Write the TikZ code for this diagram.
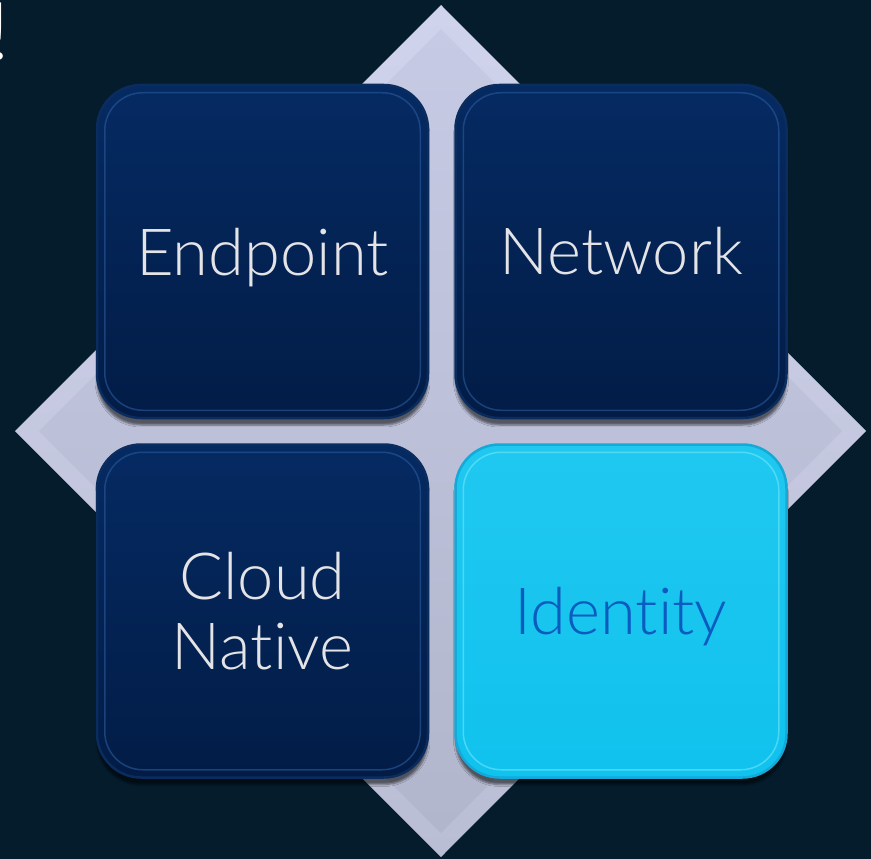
\documentclass[tikz,border=0pt]{standalone}
\usepackage{fontspec}
\setmainfont{Lato Light}[Ligatures=CommonOff]
\usetikzlibrary{shadows.blur}
\definecolor{bgc}{HTML}{041C2C}
\definecolor{diamondtop}{HTML}{D0D3EC}
\definecolor{diamondbot}{HTML}{BABED4}
\definecolor{innertop}{HTML}{C6CAE4}
\definecolor{innerbot}{HTML}{B2B6CC}
\definecolor{navytop}{HTML}{052A62}
\definecolor{navybot}{HTML}{021C46}
\definecolor{rimnavy}{HTML}{0A2C5E}
\definecolor{navyhi}{HTML}{2A5A9C}
\definecolor{tiletext}{HTML}{E4E4E6}
\definecolor{cyantop}{HTML}{20C8F0}
\definecolor{cyanmid}{HTML}{3CD8F6}
\definecolor{cyanbot}{HTML}{10C2EE}
\definecolor{rimcyan}{HTML}{15A9D8}
\definecolor{cyanhi}{HTML}{6FE6FA}
\definecolor{idtext}{HTML}{0B5CBF}
\begin{document}
\begin{tikzpicture}[x=1pt,y=-1pt,
    tile/.style={rounded corners=44pt, minimum width=331pt, minimum height=333pt,
      line width=2.5pt, inner sep=0pt, align=center,
      font=\fontsize{65}{70}\selectfont,
      blur shadow={shadow xshift=0pt, shadow yshift=-7pt, shadow opacity=55}},
    navytile/.style={tile, draw=rimnavy, top color=navytop, bottom color=navybot, text=tiletext},
    cyantile/.style={tile, draw=rimcyan, top color=cyantop, middle color=cyanmid, bottom color=cyanbot, text=idtext},
    bevel/.style={rounded corners=38pt, line width=1.5pt, opacity=0.6}]
  \def\colL{262.5}
  \def\colR{621}
  \def\rowU{251.5}
  \def\rowD{611}

  \fill[bgc] (0,0) rectangle (871,859);
  \useasboundingbox (0,0) rectangle (871,859);

  \node[anchor=base east, inner sep=0pt, text=white, font=\fontsize{80}{90}\selectfont] (bang) at (10,60) {!};

  \shade[top color=diamondtop, bottom color=diamondbot] (441,5) -- (866,431) -- (441,857) -- (15,431) -- cycle;
  \shade[top color=innertop, bottom color=innerbot] (441,29) -- (842,431) -- (441,833) -- (39,431) -- cycle;

  \node[navytile, text depth=0pt] (endpoint) at (\colL,\rowU) {Endpoint};
  \node[navytile] (network) at (\colR,\rowU) {Network};
  \node[navytile] (cloud) at (\colL,\rowD) {Cloud\\Native};
  \node[cyantile, text depth=0pt] (identity) at (\colR,\rowD) {Identity};

  \foreach \n in {endpoint,network,cloud}
    \draw[bevel, draw=navyhi] ([shift={(9,9)}]\n.north west) rectangle ([shift={(-9,-9)}]\n.south east);
  \draw[bevel, draw=cyanhi] ([shift={(9,9)}]identity.north west) rectangle ([shift={(-9,-9)}]identity.south east);
\end{tikzpicture}
\end{document}
